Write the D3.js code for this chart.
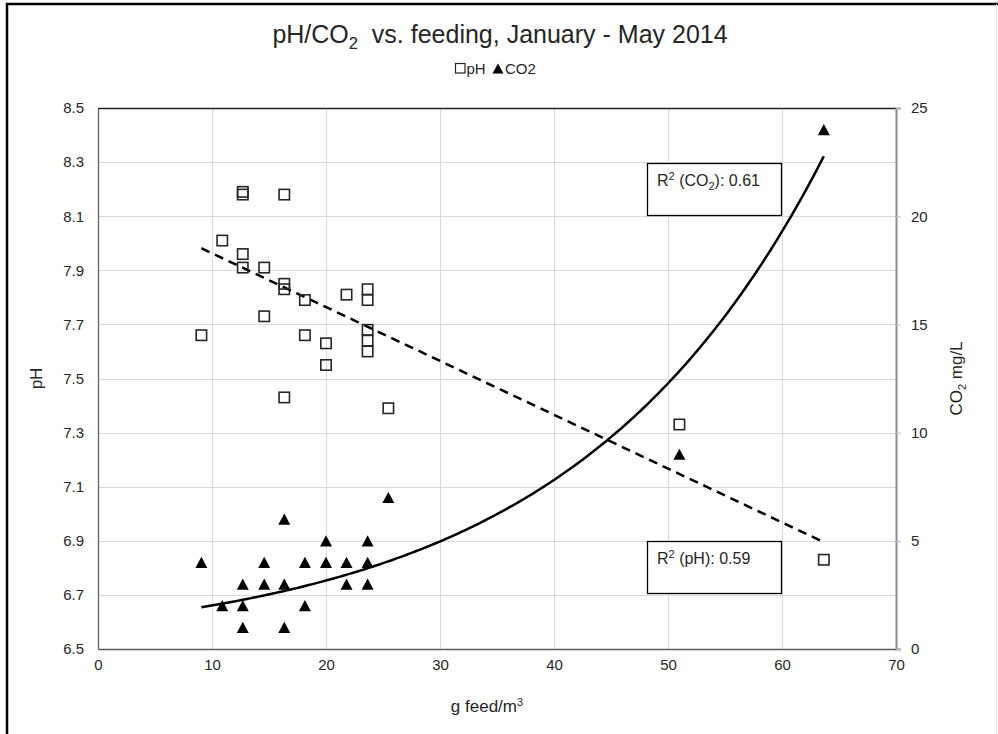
<!DOCTYPE html>
<html>
<head>
<meta charset="utf-8">
<script src="https://cdn.jsdelivr.net/npm/d3@7"></script>
<style>
  html, body { margin: 0; padding: 0; background: #fff; }
  svg { display: block; font-family: "Liberation Sans", Arial, sans-serif; }
  text { white-space: pre; }
</style>
</head>
<body>
<div id="chart"></div>
<script>
// ---------- data ----------
const feedPH = [9.07, 10.9, 12.7, 12.7, 12.7, 12.7, 14.58, 14.58, 16.34, 16.34, 16.34, 16.34,
                18.15, 18.15, 20.0, 20.0, 21.8, 23.65, 23.65, 23.65, 23.65, 23.65, 25.47, 51.0, 63.67];
const pHValues = [7.66, 8.01, 8.19, 8.18, 7.96, 7.91, 7.91, 7.73, 8.18, 7.85, 7.83, 7.43,
                  7.79, 7.66, 7.63, 7.55, 7.81, 7.83, 7.79, 7.68, 7.64, 7.60, 7.39, 7.33, 6.83];

const feedCO2 = [9.07, 10.9, 12.7, 12.7, 12.7, 14.58, 14.58, 16.34, 16.34, 16.34, 18.15, 18.15,
                 20.0, 20.0, 21.8, 21.8, 23.65, 23.65, 23.65, 25.47, 51.0, 63.67];
const co2Values = [4, 2, 3, 2, 1, 4, 3, 6, 3, 1, 4, 2, 5, 4, 4, 3, 5, 4, 3, 7, 9, 24];

const xTicks = [0, 10, 20, 30, 40, 50, 60, 70];
const pHTicks = [6.5, 6.7, 6.9, 7.1, 7.3, 7.5, 7.7, 7.9, 8.1, 8.3, 8.5];
const co2Ticks = [0, 5, 10, 15, 20, 25];

// trendline coefficients as shown in the chart (linear for pH, exponential for CO2)
const pHTrend = { slope: -0.0199, intercept: 8.162, r2: "0.59" };
const co2Trend = { a: 1.281, b: 0.0452, r2: "0.61" };

// ---------- layout ----------
const W = 998, H = 734;
const margin = { top: 108, right: 102, bottom: 85, left: 98 };
const pw = W - margin.left - margin.right;
const ph = H - margin.top - margin.bottom;

const svg = d3.select("#chart").append("svg").attr("width", W).attr("height", H);

// outer chart border (clipped on right/bottom like the reference)
svg.append("line").attr("x1", 7).attr("x2", 7).attr("y1", 3).attr("y2", H)
   .attr("stroke", "#000").attr("stroke-width", 2.5);
svg.append("line").attr("x1", 6).attr("x2", W).attr("y1", 4).attr("y2", 4)
   .attr("stroke", "#000").attr("stroke-width", 2.5);
svg.append("line").attr("x1", 996.5).attr("x2", 996.5).attr("y1", 4).attr("y2", H)
   .attr("stroke", "#e6e6e6").attr("stroke-width", 1);

const x = d3.scaleLinear().domain([0, 70]).range([margin.left, margin.left + pw]);
const yL = d3.scaleLinear().domain([6.5, 8.5]).range([margin.top + ph, margin.top]);
const yR = d3.scaleLinear().domain([0, 25]).range([margin.top + ph, margin.top]);

// gridlines
const grid = svg.append("g");
grid.selectAll("line.h").data(pHTicks.slice(1)).join("line")
  .attr("x1", margin.left).attr("x2", margin.left + pw)
  .attr("y1", d => Math.round(yL(d)) + 0.5).attr("y2", d => Math.round(yL(d)) + 0.5)
  .attr("stroke", "#d9d9d9").attr("stroke-width", 1);
grid.selectAll("line.v").data(xTicks.slice(1, -1)).join("line")
  .attr("y1", margin.top).attr("y2", margin.top + ph)
  .attr("x1", d => Math.round(x(d)) + 0.5).attr("x2", d => Math.round(x(d)) + 0.5)
  .attr("stroke", "#d9d9d9").attr("stroke-width", 1);

// plot-area frame
svg.append("line").attr("x1", margin.left).attr("x2", margin.left + pw)
   .attr("y1", margin.top + 0.5).attr("y2", margin.top + 0.5).attr("stroke", "#222").attr("stroke-width", 1.5);

// axes
const fontSize = 15;
const xAxis = svg.append("g").attr("transform", `translate(0,${margin.top + ph})`)
  .call(d3.axisBottom(x).tickValues(xTicks).tickSize(0).tickPadding(10).tickFormat(d3.format("d")));
const yAxisL = svg.append("g").attr("transform", `translate(${margin.left},0)`)
  .call(d3.axisLeft(yL).tickValues(pHTicks).tickSize(0).tickPadding(14).tickFormat(d3.format(".1f")));
const yAxisR = svg.append("g").attr("transform", `translate(${margin.left + pw},0)`)
  .call(d3.axisRight(yR).tickValues(co2Ticks).tickSize(5).tickPadding(10).tickFormat(d3.format("d")));

[xAxis, yAxisL, yAxisR].forEach(g => {
  g.selectAll("text").attr("font-size", fontSize).attr("fill", "#262626")
   .attr("font-family", "Liberation Sans, Arial, sans-serif");
  g.selectAll(".tick line").attr("stroke", "#bfbfbf");
});
xAxis.select(".domain").attr("stroke", "#595959").attr("stroke-width", 1.5);
yAxisL.select(".domain").attr("stroke", "#595959").attr("stroke-width", 1.2);
yAxisR.select(".domain").attr("stroke", "#8c8c8c").attr("stroke-width", 2);

// trendlines
const clipExt = d3.extent(feedPH);
const pHLine = d3.line().x(d => x(d)).y(d => yL(pHTrend.intercept + pHTrend.slope * d));
svg.append("path").datum(clipExt).attr("d", pHLine)
  .attr("fill", "none").attr("stroke", "#000").attr("stroke-width", 2.5).attr("stroke-dasharray", "9,6");

const co2Ext = d3.extent(feedCO2);
const co2Samples = d3.range(co2Ext[0], co2Ext[1], 0.25).concat([co2Ext[1]]);
const co2Line = d3.line().x(d => x(d)).y(d => yR(co2Trend.a * Math.exp(co2Trend.b * d)));
svg.append("path").datum(co2Samples).attr("d", co2Line)
  .attr("fill", "none").attr("stroke", "#000").attr("stroke-width", 2.5);

// markers
const tri = "M0,-5.6L6,5.6L-6,5.6Z";
svg.append("g").selectAll("path").data(d3.zip(feedCO2, co2Values)).join("path")
  .attr("d", tri).attr("transform", d => `translate(${x(d[0])},${yR(d[1])})`).attr("fill", "#000");

svg.append("g").selectAll("rect").data(d3.zip(feedPH, pHValues)).join("rect")
  .attr("x", d => x(d[0]) - 5.2).attr("y", d => yL(d[1]) - 5.2)
  .attr("width", 10.4).attr("height", 10.4)
  .attr("fill", "none").attr("stroke", "#262626").attr("stroke-width", 1.6);

// R² boxes
function r2Box(bx, by, parts) {
  svg.append("rect").attr("x", bx + 0.5).attr("y", by + 0.5).attr("width", 134).attr("height", 52)
    .attr("fill", "#fff").attr("stroke", "#000").attr("stroke-width", 1.3);
  const t = svg.append("text").attr("x", bx + 10).attr("y", by + 23).attr("font-size", 16).attr("fill", "#262626");
  parts.forEach(p => {
    const s = t.append("tspan").text(p.t);
    if (p.sup) s.attr("font-size", 11).attr("dy", -6);
    if (p.sub) s.attr("font-size", 11).attr("dy", 4);
    if (p.back) s.attr("dy", p.back);
  });
}
r2Box(647, 163, [{ t: "R" }, { t: "2", sup: true }, { t: " (CO", back: 6 }, { t: "2", sub: true }, { t: "): " + co2Trend.r2, back: -4 }]);
r2Box(647, 541, [{ t: "R" }, { t: "2", sup: true }, { t: " (pH): " + pHTrend.r2, back: 6 }]);

// title
const title = svg.append("text").attr("x", 500).attr("y", 43).attr("text-anchor", "middle")
  .attr("font-size", 25).attr("fill", "#262626");
title.append("tspan").text("pH/CO");
title.append("tspan").text("2").attr("font-size", 16.5).attr("dy", 6);
title.append("tspan").text("  vs. feeding, January - May 2014").attr("dy", -6);

// legend
const lg = svg.append("g").attr("font-size", 15).attr("fill", "#262626");
lg.append("rect").attr("x", 455.5).attr("y", 63.5).attr("width", 9.5).attr("height", 9.5)
  .attr("fill", "none").attr("stroke", "#262626").attr("stroke-width", 1.2);
lg.append("text").attr("x", 466.5).attr("y", 73.5).text("pH");
lg.append("path").attr("d", "M498,63.5L503.5,73.5L492.5,73.5Z").attr("fill", "#000");
lg.append("text").attr("x", 505).attr("y", 73.5).text("CO2");

// axis titles
const xt = svg.append("text").attr("x", 487).attr("y", 712).attr("text-anchor", "middle")
  .attr("font-size", 17).attr("fill", "#262626");
xt.append("tspan").text("g feed/m");
xt.append("tspan").text("3").attr("font-size", 11).attr("dy", -6);

svg.append("text").attr("transform", `translate(42,${margin.top + ph / 2}) rotate(-90)`)
  .attr("text-anchor", "middle").attr("font-size", 17).attr("fill", "#262626").text("pH");

const yt = svg.append("text").attr("transform", `translate(962,${margin.top + ph / 2}) rotate(-90)`)
  .attr("text-anchor", "middle").attr("font-size", 17).attr("fill", "#262626");
yt.append("tspan").text("CO");
yt.append("tspan").text("2").attr("font-size", 11).attr("dy", 4);
yt.append("tspan").text(" mg/L").attr("dy", -4);
</script>
</body>
</html>
